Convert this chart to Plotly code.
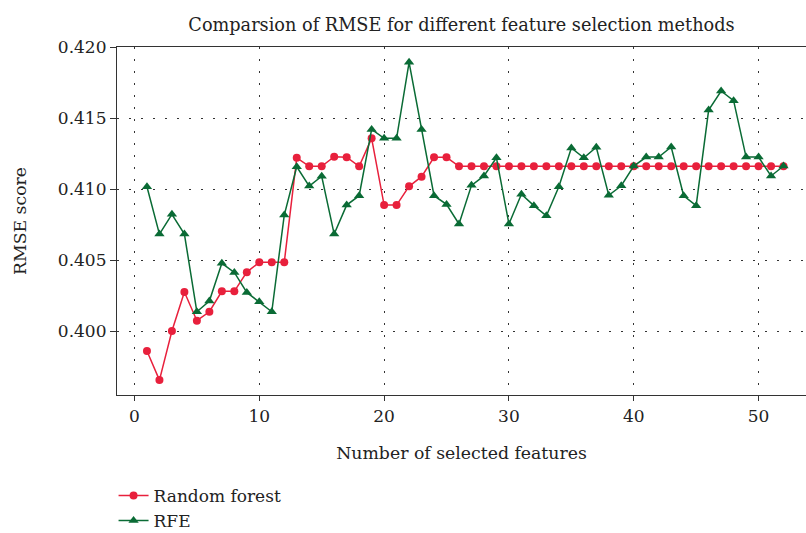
import plotly.graph_objects as go

features = list(range(1, 53))

rf_rmse = [0.3986, 0.39655, 0.4000, 0.40275, 0.40073, 0.40136, 0.4028, 0.4028, 0.40415, 0.40484,
           0.40484, 0.40484, 0.41220, 0.4116, 0.4116, 0.41228, 0.41224, 0.4116, 0.41357, 0.40887,
           0.40887, 0.41019, 0.41087, 0.41223, 0.41223, 0.4116, 0.4116, 0.4116, 0.4116, 0.4116,
           0.4116, 0.4116, 0.4116, 0.4116, 0.4116, 0.4116, 0.4116, 0.4116, 0.4116, 0.4116,
           0.4116, 0.4116, 0.4116, 0.4116, 0.4116, 0.4116, 0.4116, 0.4116, 0.4116, 0.4116,
           0.4116, 0.4116]

rfe_rmse = [0.41016, 0.40683, 0.40822, 0.40683, 0.40136, 0.40211, 0.40477, 0.40413, 0.40272, 0.40207,
            0.40136, 0.40817, 0.41157, 0.41021, 0.41090, 0.40683, 0.40887, 0.40953, 0.41420, 0.41357,
            0.41357, 0.41892, 0.41420, 0.40953, 0.40892, 0.40754, 0.41026, 0.41092, 0.41220, 0.40754,
            0.40963, 0.40883, 0.40812, 0.41016, 0.41289, 0.41220, 0.41294, 0.40956, 0.41023, 0.41162,
            0.41225, 0.41225, 0.41296, 0.40953, 0.40883, 0.41556, 0.41690, 0.41622, 0.41225, 0.41225,
            0.41092, 0.41162]

x_ticks = [0, 10, 20, 30, 40, 50]
y_ticks = [0.400, 0.405, 0.410, 0.415, 0.420]
y_tick_text = ["0.400", "0.405", "0.410", "0.415", "0.420"]

RED = "#e8203c"
GREEN = "#0a6b35"
FONT = "DejaVu Serif"

fig = go.Figure()
fig.add_trace(go.Scatter(
    x=features, y=rf_rmse, mode="lines+markers", name="Random forest",
    line=dict(color=RED, width=1.5),
    marker=dict(symbol="circle", size=8, color=RED),
))
fig.add_trace(go.Scatter(
    x=features, y=rfe_rmse, mode="lines+markers", name="RFE",
    line=dict(color=GREEN, width=1.5),
    marker=dict(symbol="triangle-up", size=9, color=GREEN),
))

fig.update_layout(
    width=806, height=533,
    margin=dict(l=117, r=0, t=47, b=138, autoexpand=False),
    paper_bgcolor="white", plot_bgcolor="white",
    font=dict(family=FONT, color="#222222", size=16),
    title=dict(text="Comparsion of RMSE for different feature selection methods",
               x=0.5, xref="paper", xanchor="center", y=0.965, yref="container",
               font=dict(family=FONT, size=17.7, color="#222222")),
    showlegend=True,
    legend=dict(orientation="v", x=-0.005, xref="paper", xanchor="left",
                y=-0.326, yref="paper", yanchor="middle",
                font=dict(family=FONT, size=17, color="#222222"),
                bgcolor="rgba(0,0,0,0)", tracegroupgap=14),
)

fig.update_xaxes(
    range=[-1.4, 53.8], tickvals=x_ticks, ticks="outside", ticklen=5, tickcolor="#333",
    showline=True, linecolor="#333", linewidth=1.2, mirror=True,
    showgrid=True, gridcolor="#333", gridwidth=1, griddash="2px,10px",
    zeroline=False, tickfont=dict(size=17),
    title=dict(text="Number of selected features", font=dict(size=17.3), standoff=22),
)
fig.update_yaxes(
    range=[0.3955, 0.4200], tickvals=y_ticks, ticktext=y_tick_text, ticks="outside",
    ticklen=6, tickcolor="#333",
    showline=True, linecolor="#333", linewidth=1.2,
    showgrid=True, gridcolor="#333", gridwidth=1, griddash="2px,10px",
    zeroline=False, tickfont=dict(size=17),
    title=dict(text="RMSE score", font=dict(size=17.3), standoff=26),
)

fig.write_html("out.html")
